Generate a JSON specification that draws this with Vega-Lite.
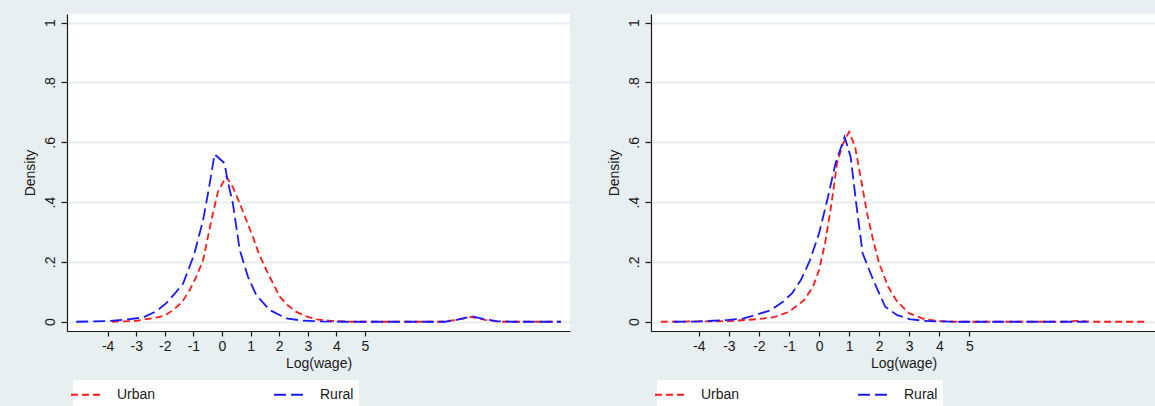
{
  "$schema": "https://vega.github.io/schema/vega-lite/v6.json",
  "background": "#e8eff1",
  "padding": {"left": 22, "top": 14, "right": 5, "bottom": 0},
  "autosize": {"type": "pad"},
  "spacing": 36,
  "datasets": {
    "dens": [
      {"panel": "L", "group": "Rural", "x": -5.1, "y": 0},
      {"panel": "L", "group": "Rural", "x": -4, "y": 0.002},
      {"panel": "L", "group": "Rural", "x": -3.3, "y": 0.008},
      {"panel": "L", "group": "Rural", "x": -2.76, "y": 0.014},
      {"panel": "L", "group": "Rural", "x": -2.3, "y": 0.035},
      {"panel": "L", "group": "Rural", "x": -1.95, "y": 0.062},
      {"panel": "L", "group": "Rural", "x": -1.6, "y": 0.1},
      {"panel": "L", "group": "Rural", "x": -1.36, "y": 0.128},
      {"panel": "L", "group": "Rural", "x": -0.98, "y": 0.223},
      {"panel": "L", "group": "Rural", "x": -0.66, "y": 0.34},
      {"panel": "L", "group": "Rural", "x": -0.45, "y": 0.45},
      {"panel": "L", "group": "Rural", "x": -0.26, "y": 0.56},
      {"panel": "L", "group": "Rural", "x": 0.09, "y": 0.53},
      {"panel": "L", "group": "Rural", "x": 0.2, "y": 0.47},
      {"panel": "L", "group": "Rural", "x": 0.38, "y": 0.396},
      {"panel": "L", "group": "Rural", "x": 0.62, "y": 0.24},
      {"panel": "L", "group": "Rural", "x": 0.91, "y": 0.15},
      {"panel": "L", "group": "Rural", "x": 1.2, "y": 0.089},
      {"panel": "L", "group": "Rural", "x": 1.67, "y": 0.039},
      {"panel": "L", "group": "Rural", "x": 2.25, "y": 0.011},
      {"panel": "L", "group": "Rural", "x": 2.8, "y": 0.004},
      {"panel": "L", "group": "Rural", "x": 3.5, "y": 0.001},
      {"panel": "L", "group": "Rural", "x": 4.2, "y": 0},
      {"panel": "L", "group": "Rural", "x": 7.8, "y": 0},
      {"panel": "L", "group": "Rural", "x": 8.2, "y": 0.006},
      {"panel": "L", "group": "Rural", "x": 8.75, "y": 0.018},
      {"panel": "L", "group": "Rural", "x": 9.2, "y": 0.008},
      {"panel": "L", "group": "Rural", "x": 9.6, "y": 0.002},
      {"panel": "L", "group": "Rural", "x": 10.2, "y": 0},
      {"panel": "L", "group": "Rural", "x": 11.85, "y": 0},
      {"panel": "L", "group": "Urban", "x": -3.85, "y": 0},
      {"panel": "L", "group": "Urban", "x": -3, "y": 0.003},
      {"panel": "L", "group": "Urban", "x": -2.3, "y": 0.014},
      {"panel": "L", "group": "Urban", "x": -2, "y": 0.02},
      {"panel": "L", "group": "Urban", "x": -1.71, "y": 0.039},
      {"panel": "L", "group": "Urban", "x": -1.4, "y": 0.065},
      {"panel": "L", "group": "Urban", "x": -1.13, "y": 0.106},
      {"panel": "L", "group": "Urban", "x": -0.9, "y": 0.15},
      {"panel": "L", "group": "Urban", "x": -0.66, "y": 0.206},
      {"panel": "L", "group": "Urban", "x": -0.37, "y": 0.34},
      {"panel": "L", "group": "Urban", "x": -0.14, "y": 0.435},
      {"panel": "L", "group": "Urban", "x": 0.15, "y": 0.485},
      {"panel": "L", "group": "Urban", "x": 0.38, "y": 0.45},
      {"panel": "L", "group": "Urban", "x": 0.62, "y": 0.396},
      {"panel": "L", "group": "Urban", "x": 0.85, "y": 0.34},
      {"panel": "L", "group": "Urban", "x": 1.08, "y": 0.284},
      {"panel": "L", "group": "Urban", "x": 1.3, "y": 0.225},
      {"panel": "L", "group": "Urban", "x": 1.55, "y": 0.173},
      {"panel": "L", "group": "Urban", "x": 1.8, "y": 0.125},
      {"panel": "L", "group": "Urban", "x": 2.02, "y": 0.084},
      {"panel": "L", "group": "Urban", "x": 2.3, "y": 0.055},
      {"panel": "L", "group": "Urban", "x": 2.6, "y": 0.033},
      {"panel": "L", "group": "Urban", "x": 3.0, "y": 0.016},
      {"panel": "L", "group": "Urban", "x": 3.3, "y": 0.008},
      {"panel": "L", "group": "Urban", "x": 3.8, "y": 0.003},
      {"panel": "L", "group": "Urban", "x": 4.5, "y": 0},
      {"panel": "L", "group": "Urban", "x": 7.7, "y": 0},
      {"panel": "L", "group": "Urban", "x": 8.2, "y": 0.006},
      {"panel": "L", "group": "Urban", "x": 8.7, "y": 0.016},
      {"panel": "L", "group": "Urban", "x": 9.2, "y": 0.006},
      {"panel": "L", "group": "Urban", "x": 9.7, "y": 0},
      {"panel": "L", "group": "Urban", "x": 11.85, "y": 0},
      {"panel": "R", "group": "Rural", "x": -4.83, "y": 0},
      {"panel": "R", "group": "Rural", "x": -4, "y": 0.001},
      {"panel": "R", "group": "Rural", "x": -3, "y": 0.006},
      {"panel": "R", "group": "Rural", "x": -2.5, "y": 0.011},
      {"panel": "R", "group": "Rural", "x": -2, "y": 0.026},
      {"panel": "R", "group": "Rural", "x": -1.6, "y": 0.039},
      {"panel": "R", "group": "Rural", "x": -1.2, "y": 0.067},
      {"panel": "R", "group": "Rural", "x": -0.9, "y": 0.095},
      {"panel": "R", "group": "Rural", "x": -0.6, "y": 0.14},
      {"panel": "R", "group": "Rural", "x": -0.3, "y": 0.206},
      {"panel": "R", "group": "Rural", "x": 0, "y": 0.295},
      {"panel": "R", "group": "Rural", "x": 0.3, "y": 0.418},
      {"panel": "R", "group": "Rural", "x": 0.55, "y": 0.53},
      {"panel": "R", "group": "Rural", "x": 0.85, "y": 0.618},
      {"panel": "R", "group": "Rural", "x": 1.05, "y": 0.552},
      {"panel": "R", "group": "Rural", "x": 1.25, "y": 0.385},
      {"panel": "R", "group": "Rural", "x": 1.45, "y": 0.229},
      {"panel": "R", "group": "Rural", "x": 1.8, "y": 0.14},
      {"panel": "R", "group": "Rural", "x": 2.2, "y": 0.05},
      {"panel": "R", "group": "Rural", "x": 2.6, "y": 0.022},
      {"panel": "R", "group": "Rural", "x": 3.0, "y": 0.009},
      {"panel": "R", "group": "Rural", "x": 3.5, "y": 0.003},
      {"panel": "R", "group": "Rural", "x": 4, "y": 0.001},
      {"panel": "R", "group": "Rural", "x": 4.5, "y": 0},
      {"panel": "R", "group": "Rural", "x": 8.93, "y": 0},
      {"panel": "R", "group": "Urban", "x": -5.26, "y": 0},
      {"panel": "R", "group": "Urban", "x": -3, "y": 0.002},
      {"panel": "R", "group": "Urban", "x": -2, "y": 0.009},
      {"panel": "R", "group": "Urban", "x": -1.5, "y": 0.015},
      {"panel": "R", "group": "Urban", "x": -1, "y": 0.033},
      {"panel": "R", "group": "Urban", "x": -0.5, "y": 0.072},
      {"panel": "R", "group": "Urban", "x": -0.2, "y": 0.117},
      {"panel": "R", "group": "Urban", "x": 0, "y": 0.173},
      {"panel": "R", "group": "Urban", "x": 0.2, "y": 0.262},
      {"panel": "R", "group": "Urban", "x": 0.4, "y": 0.385},
      {"panel": "R", "group": "Urban", "x": 0.6, "y": 0.53},
      {"panel": "R", "group": "Urban", "x": 0.8, "y": 0.596},
      {"panel": "R", "group": "Urban", "x": 1.0, "y": 0.635},
      {"panel": "R", "group": "Urban", "x": 1.2, "y": 0.585},
      {"panel": "R", "group": "Urban", "x": 1.4, "y": 0.474},
      {"panel": "R", "group": "Urban", "x": 1.6, "y": 0.362},
      {"panel": "R", "group": "Urban", "x": 1.8, "y": 0.273},
      {"panel": "R", "group": "Urban", "x": 2.0, "y": 0.195},
      {"panel": "R", "group": "Urban", "x": 2.3, "y": 0.117},
      {"panel": "R", "group": "Urban", "x": 2.6, "y": 0.067},
      {"panel": "R", "group": "Urban", "x": 3.0, "y": 0.028},
      {"panel": "R", "group": "Urban", "x": 3.5, "y": 0.009},
      {"panel": "R", "group": "Urban", "x": 4.0, "y": 0.002},
      {"panel": "R", "group": "Urban", "x": 4.5, "y": 0},
      {"panel": "R", "group": "Urban", "x": 8.2, "y": 0},
      {"panel": "R", "group": "Urban", "x": 8.6, "y": 0.003},
      {"panel": "R", "group": "Urban", "x": 9.0, "y": 0},
      {"panel": "R", "group": "Urban", "x": 10.93, "y": 0}
    ]
  },
  "config": {
    "font": "Liberation Sans",
    "view": {"fill": "white", "stroke": null},
    "axis": {
      "domainColor": "#1a1a1a",
      "domainWidth": 1.2,
      "tickColor": "#1a1a1a",
      "tickWidth": 1.2,
      "labelColor": "#1a1a1a",
      "titleColor": "#1a1a1a",
      "labelFont": "Liberation Sans",
      "titleFont": "Liberation Sans",
      "labelFontSize": 14,
      "titleFontSize": 14,
      "titleFontWeight": "normal"
    },
    "legend": {
      "orient": "none",
      "legendX": 6,
      "legendY": 366,
      "direction": "horizontal",
      "columns": 2,
      "columnPadding": 114,
      "gridAlign": "all",
      "fillColor": "white",
      "padding": 5,
      "symbolType": "M-2,0H2",
      "symbolSize": 272,
      "symbolStrokeWidth": 1.8,
      "symbolFillColor": "transparent",
      "labelFont": "Liberation Sans",
      "labelFontSize": 14,
      "labelOffset": 20,
      "labelColor": "#1a1a1a"
    }
  },
  "hconcat": [
    {
      "width": 503,
      "height": 317,
      "data": {"name": "dens"},
      "transform": [{"filter": "datum.panel == 'L'"}],
      "encoding": {
        "x": {"field": "x", "type": "quantitative",
          "scale": {"domain": [-5.42, 12.17], "nice": false, "zero": false},
          "axis": {"values": [-4, -3, -2, -1, 0, 1, 2, 3, 4, 5], "labelExpr": "'' + datum.value", "title": "Log(wage)", "grid": false, "tickSize": 5, "labelPadding": 3, "titlePadding": 3, "labelFlush": false}},
        "y": {"field": "y", "type": "quantitative",
          "scale": {"domain": [-0.031, 1.029], "nice": false, "zero": false},
          "axis": {"values": [0, 0.2, 0.4, 0.6, 0.8, 1], "labelExpr": "datum.value == 0 ? '0' : datum.value == 1 ? '1' : replace(format(datum.value, '.1f'), '0.', '.')", "labelAngle": -90, "grid": true, "gridColor": "#e6edf0", "gridWidth": 2, "title": "Density", "tickSize": 6, "labelPadding": 4, "titlePadding": 6}},
        "color": {"field": "group", "type": "nominal", "scale": {"domain": ["Urban", "Rural"], "range": ["#ff1a1a", "#1a1aff"]}, "legend": {"title": null}},
        "strokeDash": {"field": "group", "type": "nominal", "scale": {"domain": ["Urban", "Rural"], "range": [[7, 4], [12, 5]]}, "legend": {"title": null}}
      },
      "layer": [
        {"transform": [{"filter": "datum.group == 'Urban'"}], "mark": {"type": "line", "strokeWidth": 1.8, "clip": true}},
        {"transform": [{"filter": "datum.group == 'Rural'"}], "mark": {"type": "line", "strokeWidth": 1.8, "clip": true}}
      ]
    },
    {
      "width": 505,
      "height": 317,
      "data": {"name": "dens"},
      "transform": [{"filter": "datum.panel == 'R'"}],
      "encoding": {
        "x": {"field": "x", "type": "quantitative",
          "scale": {"domain": [-5.59, 11.21], "nice": false, "zero": false},
          "axis": {"values": [-4, -3, -2, -1, 0, 1, 2, 3, 4, 5], "labelExpr": "'' + datum.value", "title": "Log(wage)", "grid": false, "tickSize": 5, "labelPadding": 3, "titlePadding": 3, "labelFlush": false}},
        "y": {"field": "y", "type": "quantitative",
          "scale": {"domain": [-0.031, 1.029], "nice": false, "zero": false},
          "axis": {"values": [0, 0.2, 0.4, 0.6, 0.8, 1], "labelExpr": "datum.value == 0 ? '0' : datum.value == 1 ? '1' : replace(format(datum.value, '.1f'), '0.', '.')", "labelAngle": -90, "grid": true, "gridColor": "#e6edf0", "gridWidth": 2, "title": "Density", "tickSize": 6, "labelPadding": 4, "titlePadding": 6}},
        "color": {"field": "group", "type": "nominal", "scale": {"domain": ["Urban", "Rural"], "range": ["#ff1a1a", "#1a1aff"]}, "legend": {"title": null}},
        "strokeDash": {"field": "group", "type": "nominal", "scale": {"domain": ["Urban", "Rural"], "range": [[7, 4], [12, 5]]}, "legend": {"title": null}}
      },
      "layer": [
        {"transform": [{"filter": "datum.group == 'Urban'"}], "mark": {"type": "line", "strokeWidth": 1.8, "clip": true}},
        {"transform": [{"filter": "datum.group == 'Rural'"}], "mark": {"type": "line", "strokeWidth": 1.8, "clip": true}}
      ]
    }
  ],
  "resolve": {
    "scale": {"x": "independent", "color": "independent", "strokeDash": "independent"},
    "legend": {"color": "independent", "strokeDash": "independent"}
  }
}
